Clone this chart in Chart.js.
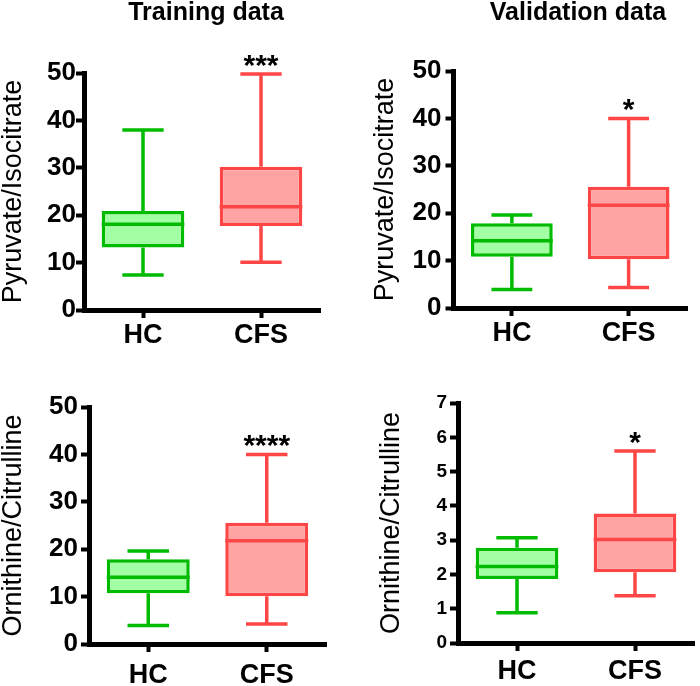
<!DOCTYPE html>
<html>
<head>
<meta charset="utf-8">
<script src="https://cdn.jsdelivr.net/npm/chart.js@4.4.1/dist/chart.umd.min.js"></script>
<style>
    body { margin: 0; background: #fff; }
    #wrap { position: relative; width: 700px; height: 686px; }
    canvas { position: absolute; }
</style>
</head>
<body>
<div id="wrap">
    <canvas id="train-pyr" width="350" height="343" style="left:0;top:0"></canvas>
    <canvas id="valid-pyr" width="350" height="343" style="left:350px;top:0"></canvas>
    <canvas id="train-orn" width="350" height="343" style="left:0;top:343px"></canvas>
    <canvas id="valid-orn" width="350" height="343" style="left:350px;top:343px"></canvas>
</div>
<script>
let groups = ["HC", "CFS"]

// each box: [min, q1, median, q3, max]
let train_pyr_hc = [7.4, 13.2, 18.1, 20.9, 38]
let train_pyr_cfs = [10.1, 17.7, 21.8, 30.2, 49.8]
let valid_pyr_hc = [3.9, 10.8, 14.2, 17.9, 19.6]
let valid_pyr_cfs = [4.3, 10.3, 21.7, 25.6, 40]
let train_orn_hc = [3.9, 10.7, 14.1, 17.9, 19.6]
let train_orn_cfs = [4.2, 10.1, 21.8, 25.6, 40]
let valid_orn_hc = [0.88, 1.87, 2.23, 2.78, 3.07]
let valid_orn_cfs = [1.38, 2.06, 3.02, 3.78, 5.6]

let stars = ["***", "*", "****", "*"]
let y_max = [50, 50, 50, 7]
let y_step = [10, 10, 10, 1]
let y_titles = ["Pyruvate/Isocitrate", "Pyruvate/Isocitrate", "Ornithine/Citrulline", "Ornithine/Citrulline"]
let column_titles = ["Training data", "Validation data", "", ""]

const FONT = "'Liberation Sans', Arial, sans-serif"
const border_colors = ["#00bb00", "#ff4646"]
const fill_colors = ["#a3ffa3", "#ffa3a3"]

// layout of each panel inside its 350x343 canvas
let panels = [
    {id: "train-pyr", data: [train_pyr_hc, train_pyr_cfs], left: 84, right: 320, top: 73, bottom: 310, tick_size: 26, tick_pad: 0, title_pad: 0, x_pad: 1, head_x: 206},
    {id: "valid-pyr", data: [valid_pyr_hc, valid_pyr_cfs], left: 103.5, right: 337, top: 71, bottom: 308, tick_size: 26, tick_pad: 4, title_pad: 22, x_pad: 1, head_x: 228},
    {id: "train-orn", data: [train_orn_hc, train_orn_cfs], left: 89, right: 326, top: 64, bottom: 301, tick_size: 26, tick_pad: 3, title_pad: 0, x_pad: 7, head_x: 0},
    {id: "valid-orn", data: [valid_orn_hc, valid_orn_cfs], left: 108, right: 344, top: 60, bottom: 300, tick_size: 19, tick_pad: 3, title_pad: 28, x_pad: 4, head_x: 0}
]

// whiskers, caps, medians, stars and the column heading
const box_plugin = {
    id: "boxWhisker",
    beforeDatasetsDraw(chart, args, opts) {
        let ctx = chart.ctx
        let y = chart.scales.y
        let meta = chart.getDatasetMeta(0)
        opts.stats.forEach((s, i) => {
            let bar = meta.data[i]
            let cap = bar.width / 4
            ctx.save()
            ctx.strokeStyle = border_colors[i]
            ctx.lineWidth = 3.5
            ctx.beginPath()
            ctx.moveTo(bar.x, y.getPixelForValue(s[4]))
            ctx.lineTo(bar.x, y.getPixelForValue(s[3]))
            ctx.moveTo(bar.x, y.getPixelForValue(s[1]))
            ctx.lineTo(bar.x, y.getPixelForValue(s[0]))
            ctx.moveTo(bar.x - cap, y.getPixelForValue(s[4]))
            ctx.lineTo(bar.x + cap, y.getPixelForValue(s[4]))
            ctx.moveTo(bar.x - cap, y.getPixelForValue(s[0]))
            ctx.lineTo(bar.x + cap, y.getPixelForValue(s[0]))
            ctx.stroke()
            ctx.restore()
        })
    },
    afterDatasetsDraw(chart, args, opts) {
        let ctx = chart.ctx
        let y = chart.scales.y
        let meta = chart.getDatasetMeta(0)
        opts.stats.forEach((s, i) => {
            let bar = meta.data[i]
            let ym = y.getPixelForValue(s[2])
            ctx.save()
            ctx.strokeStyle = border_colors[i]
            ctx.lineWidth = 3.5
            ctx.beginPath()
            ctx.moveTo(bar.x - bar.width / 2, ym)
            ctx.lineTo(bar.x + bar.width / 2, ym)
            ctx.stroke()
            ctx.restore()
        })
        // significance above CFS
        let cfs = meta.data[1]
        ctx.save()
        ctx.fillStyle = "#000"
        ctx.font = "bold 30px " + FONT
        ctx.textAlign = "center"
        ctx.textBaseline = "alphabetic"
        ctx.fillText(opts.stars, cfs.x, y.getPixelForValue(opts.stats[1][4]) + 1)
        if (opts.heading) {
            ctx.font = "bold 25px " + FONT
            ctx.fillText(opts.heading, opts.head_x, 20)
        }
        ctx.restore()
    }
}

function make_chart(p, k) {
    let axis_grid = {display: true, drawOnChartArea: false, offset: false, tickLength: 8, tickWidth: 4, tickColor: "#000"}
    let axis_border = {display: true, color: "#000", width: 5}
    new Chart(p.id, {
        type: "bar",
        data: {
            labels: groups,
            datasets: [{
                data: p.data.map(s => [s[1], s[3]]),
                backgroundColor: fill_colors,
                borderColor: border_colors,
                borderWidth: 3.5,
                borderSkipped: false,
                barPercentage: 0.7,
                categoryPercentage: 1
            }]
        },
        options: {
            responsive: false,
            animation: false,
            devicePixelRatio: 1,
            layout: {padding: {left: 0, top: p.top, right: 350 - p.right, bottom: 0}},
            plugins: {
                legend: {display: false},
                tooltip: {enabled: false},
                boxWhisker: {stats: p.data, stars: stars[k], heading: column_titles[k], head_x: p.head_x}
            },
            scales: {
                x: {
                    offset: true,
                    grid: axis_grid,
                    border: axis_border,
                    ticks: {color: "#000", padding: p.x_pad, font: {family: FONT, size: 27, weight: "bold"}},
                    afterFit: s => { s.height = 343 - p.bottom }
                },
                y: {
                    min: 0,
                    max: y_max[k],
                    grid: axis_grid,
                    border: axis_border,
                    ticks: {stepSize: y_step[k], color: "#000", padding: p.tick_pad, font: {family: FONT, size: p.tick_size, weight: "bold"}},
                    title: {display: true, text: y_titles[k], color: "#000", padding: {top: p.title_pad, bottom: 0}, font: {family: FONT, size: 27, lineHeight: 1}},
                    afterFit: s => { s.width = p.left }
                }
            }
        },
        plugins: [box_plugin]
    })
}

panels.forEach(make_chart)
</script>
</body>
</html>
